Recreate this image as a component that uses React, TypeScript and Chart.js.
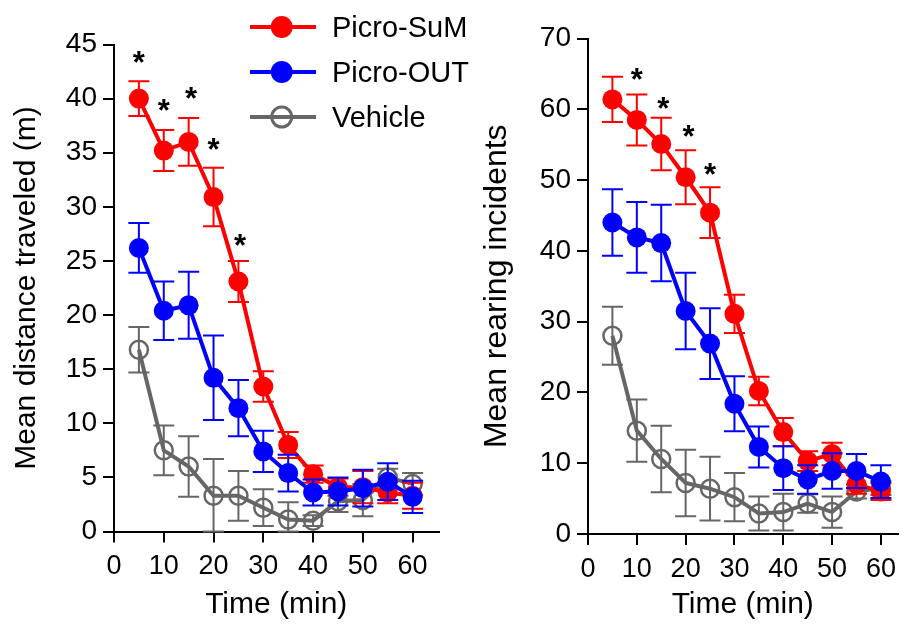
import React, { useEffect, useRef } from 'react';
import { Chart, registerables } from 'chart.js';

Chart.register(...registerables);

const FONT = "'Liberation Sans', Arial, Helvetica, sans-serif";
const RED = '#ff0000';
const BLUE = '#0000ff';
const GRAY = '#666666';

// ---------- data ----------
const times = [5, 10, 15, 20, 25, 30, 35, 40, 45, 50, 55, 60];
const xTicks = [0, 10, 20, 30, 40, 50, 60];
const legendLabels = ['Picro-SuM', 'Picro-OUT', 'Vehicle'];

// Left panel: mean distance traveled (m)
const distTicks = [0, 5, 10, 15, 20, 25, 30, 35, 40, 45];
const distSuM = [40.0, 35.2, 36.0, 30.9, 23.1, 13.4, 8.0, 5.3, 4.1, 4.1, 3.6, 3.3];
const distSuMErr = [1.6, 1.9, 2.2, 2.7, 1.9, 1.4, 1.2, 0.8, 0.8, 1.5, 1.0, 1.2];
const distOUT = [26.2, 20.4, 20.9, 14.2, 11.4, 7.4, 5.4, 3.6, 3.7, 4.0, 4.6, 3.2];
const distOUTErr = [2.3, 2.7, 3.1, 3.9, 2.6, 1.9, 1.7, 1.2, 1.3, 1.7, 1.7, 1.5];
const distVeh = [16.8, 7.5, 6.0, 3.3, 3.3, 2.2, 1.1, 1.0, 2.8, 2.9, 5.0, 4.4];
const distVehErr = [2.1, 2.3, 2.8, 3.4, 2.3, 1.7, 1.6, 0.5, 1.0, 1.5, 0.8, 1.0];
const distStarX = [5, 10, 15.5, 20, 25.3];
const distStarY = [44.0, 39.6, 40.7, 36.0, 27.1];

// Right panel: mean rearing incidents
const rearTicks = [0, 10, 20, 30, 40, 50, 60, 70];
const rearSuM = [61.4, 58.5, 55.1, 50.4, 45.4, 31.1, 20.2, 14.4, 10.3, 11.3, 7.0, 6.0];
const rearSuMErr = [3.2, 3.6, 3.7, 3.8, 3.6, 2.7, 2.0, 2.0, 1.4, 1.6, 1.3, 1.2];
const rearOUT = [44.0, 41.9, 41.1, 31.5, 26.9, 18.4, 12.3, 9.3, 7.7, 8.9, 8.9, 7.4];
const rearOUTErr = [4.7, 5.0, 5.4, 5.4, 5.0, 3.9, 2.9, 3.1, 2.0, 2.5, 2.4, 2.3];
const rearVeh = [28.0, 14.6, 10.6, 7.2, 6.4, 5.2, 2.9, 3.1, 4.3, 3.1, 6.0, 6.5];
const rearVehErr = [4.1, 4.4, 4.7, 4.7, 4.5, 3.4, 2.4, 2.6, 1.3, 2.2, 1.0, 1.0];
const rearStarX = [10, 15.4, 20.6, 25];
const rearStarY = [65.3, 61.2, 57.2, 51.9];

// ---------- plugins ----------
const errorBarPlugin = {
  id: 'errorBars',
  beforeDatasetDraw(chart: any, args: any) {
    const ds: any = chart.data.datasets[args.index];
    const errs: number[] = ds.errors;
    if (!errs) return;
    const { ctx } = chart;
    const x = chart.scales.x;
    const y = chart.scales.y;
    ctx.save();
    ctx.strokeStyle = ds.borderColor;
    ctx.lineWidth = 2;
    const cap = 10.5;
    ds.data.forEach((p: any, i: number) => {
      const px = x.getPixelForValue(p.x);
      const top = y.getPixelForValue(p.y + errs[i]);
      const bot = y.getPixelForValue(Math.max(p.y - errs[i], 0));
      ctx.beginPath();
      ctx.moveTo(px, top);
      ctx.lineTo(px, bot);
      ctx.moveTo(px - cap, top);
      ctx.lineTo(px + cap, top);
      ctx.moveTo(px - cap, bot);
      ctx.lineTo(px + cap, bot);
      ctx.stroke();
    });
    ctx.restore();
  },
};

const starPlugin = {
  id: 'stars',
  afterDatasetsDraw(chart: any, _args: any, opts: any) {
    const xs: number[] = opts.xs || [];
    const ys: number[] = opts.ys || [];
    const { ctx } = chart;
    ctx.save();
    ctx.fillStyle = '#000';
    ctx.font = `bold 31px ${FONT}`;
    ctx.textAlign = 'center';
    ctx.textBaseline = 'alphabetic';
    xs.forEach((xv, i) => {
      const px = chart.scales.x.getPixelForValue(xv);
      const py = chart.scales.y.getPixelForValue(ys[i]);
      ctx.fillText('*', px, py + 18);
    });
    ctx.restore();
  },
};

function series(label: string, vals: number[], errs: number[], color: string, hollow: boolean) {
  return {
    label,
    data: times.map((t, i) => ({ x: t, y: vals[i] })),
    errors: errs,
    borderColor: color,
    backgroundColor: hollow ? 'rgba(0,0,0,0)' : color,
    borderWidth: 4,
    pointRadius: hollow ? 9 : 10,
    pointBorderWidth: hollow ? 2.5 : 0,
    pointBorderColor: color,
    pointBackgroundColor: hollow ? 'rgba(0,0,0,0)' : color,
    pointHoverRadius: hollow ? 9 : 10,
    tension: 0,
    fill: false,
  };
}

type PanelOpts = {
  suM: number[]; suMErr: number[];
  out: number[]; outErr: number[];
  veh: number[]; vehErr: number[];
  yTicks: number[]; yMax: number; xMax: number;
  yTitle: string; yTitlePad: number; yTitleSize: number;
  axisWidth: number; axisHeight: number;
  padTop: number; padRight: number;
  starX: number[]; starY: number[];
};

function makeConfig(o: PanelOpts): any {
  return {
    type: 'line',
    data: {
      datasets: [
        series(legendLabels[1], o.out, o.outErr, BLUE, false),
        series(legendLabels[0], o.suM, o.suMErr, RED, false),
        series(legendLabels[2], o.veh, o.vehErr, GRAY, true),
      ],
    },
    options: {
      responsive: false,
      animation: false,
      events: [],
      devicePixelRatio: 1,
      layout: { padding: { left: 0, right: o.padRight, top: o.padTop, bottom: 0 } },
      plugins: {
        legend: { display: false },
        tooltip: { enabled: false },
        stars: { xs: o.starX, ys: o.starY },
      },
      scales: {
        x: {
          type: 'linear',
          min: 0,
          max: o.xMax,
          afterBuildTicks: (s: any) => { s.ticks = xTicks.map((v) => ({ value: v })); },
          afterFit: (s: any) => { s.height = o.axisHeight; },
          ticks: { font: { family: FONT, size: 27 }, color: '#000', padding: 8, maxRotation: 0, autoSkip: false },
          grid: { display: true, drawOnChartArea: false, drawTicks: true, tickLength: 11, color: '#000', lineWidth: 2 },
          border: { display: true, color: '#000', width: 2 },
          title: { display: true, text: 'Time (min)', font: { family: FONT, size: 30 }, color: '#000', padding: { top: 0, bottom: 1 } },
        },
        y: {
          type: 'linear',
          min: 0,
          max: o.yMax,
          afterBuildTicks: (s: any) => { s.ticks = o.yTicks.map((v) => ({ value: v })); },
          afterFit: (s: any) => { s.width = o.axisWidth; },
          ticks: { font: { family: FONT, size: 28 }, color: '#000', padding: 6, autoSkip: false },
          grid: { display: true, drawOnChartArea: false, drawTicks: true, tickLength: 11, color: '#000', lineWidth: 2 },
          border: { display: true, color: '#000', width: 2 },
          title: { display: true, text: o.yTitle, font: { family: FONT, size: o.yTitleSize }, color: '#000', padding: { top: o.yTitlePad, bottom: 0 } },
        },
      },
    },
    plugins: [errorBarPlugin, starPlugin],
  };
}

function ChartCanvas({ left, width, height, make }: { left: number; width: number; height: number; make: () => any }) {
  const ref = useRef<HTMLCanvasElement>(null);
  useEffect(() => {
    const chart = new Chart(ref.current as HTMLCanvasElement, make());
    return () => chart.destroy();
  }, []);
  return (
    <canvas
      ref={ref}
      width={width}
      height={height}
      style={{ position: 'absolute', left, top: 0, width, height }}
    />
  );
}

function Legend() {
  const colors = [RED, BLUE, GRAY];
  const rowsY = [26.7, 71.7, 116.7];
  return (
    <>
      {legendLabels.map((lab, i) => (
        <React.Fragment key={lab}>
          <svg
            width={72}
            height={30}
            style={{ position: 'absolute', left: 248, top: rowsY[i] - 15 }}
          >
            <line x1={2} y1={15} x2={68} y2={15} stroke={colors[i]} strokeWidth={4} />
            {i < 2 ? (
              <circle cx={33.7} cy={15} r={11} fill={colors[i]} />
            ) : (
              <circle cx={33.7} cy={15} r={10} fill="none" stroke={colors[i]} strokeWidth={3} />
            )}
          </svg>
          <div
            style={{
              position: 'absolute',
              left: 332,
              top: rowsY[i] - 17,
              fontFamily: FONT,
              fontSize: 29,
              lineHeight: '34px',
              color: '#000',
              whiteSpace: 'nowrap',
            }}
          >
            {lab}
          </div>
        </React.Fragment>
      ))}
    </>
  );
}

export default function App() {
  return (
    <div style={{ position: 'fixed', left: 0, top: 0, width: 909, height: 624, background: '#fff', overflow: 'hidden' }}>
      <ChartCanvas
        left={0}
        width={450}
        height={624}
        make={() =>
          makeConfig({
            suM: distSuM, suMErr: distSuMErr,
            out: distOUT, outErr: distOUTErr,
            veh: distVeh, vehErr: distVehErr,
            yTicks: distTicks, yMax: 45, xMax: 65.2,
            yTitle: 'Mean distance traveled (m)', yTitlePad: 9, yTitleSize: 30,
            axisWidth: 114, axisHeight: 92.5,
            padTop: 44.5, padRight: 10,
            starX: distStarX, starY: distStarY,
          })
        }
      />
      <ChartCanvas
        left={460}
        width={449}
        height={624}
        make={() =>
          makeConfig({
            suM: rearSuM, suMErr: rearSuMErr,
            out: rearOUT, outErr: rearOUTErr,
            veh: rearVeh, vehErr: rearVehErr,
            yTicks: rearTicks, yMax: 70, xMax: 63.4,
            yTitle: 'Mean rearing incidents', yTitlePad: 18, yTitleSize: 32,
            axisWidth: 128, axisHeight: 90,
            padTop: 38.5, padRight: 0,
            starX: rearStarX, starY: rearStarY,
          })
        }
      />
      <Legend />
    </div>
  );
}
